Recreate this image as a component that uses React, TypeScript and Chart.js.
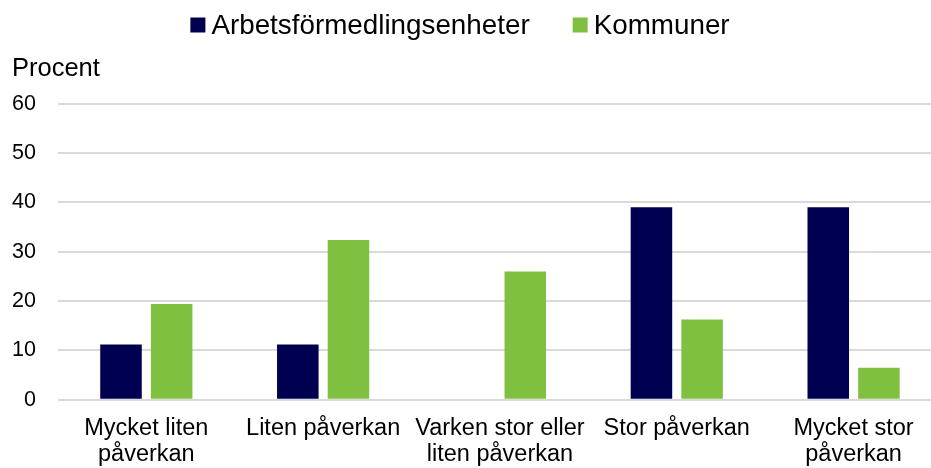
import React, { useEffect, useRef } from "react";
import { Chart, registerables } from "chart.js";

Chart.register(...registerables);

const categories: string[][] = [
  ["Mycket liten", "påverkan"],
  ["Liten påverkan"],
  ["Varken stor eller", "liten påverkan"],
  ["Stor påverkan"],
  ["Mycket stor", "påverkan"],
];
const arbetsformedling: (number | null)[] = [11.2, 11.2, null, 39.0, 39.0];
const kommuner: number[] = [19.4, 32.4, 26.0, 16.3, 6.5];
const seriesNames = ["Arbetsförmedlingsenheter", "Kommuner"];
const seriesColors = ["#000050", "#80C040"];
const yTitle = "Procent";
const yTicks = { min: 0, max: 60, step: 10 };

const FONT = "'Liberation Sans', Arial, sans-serif";

// Legend drawn inside the canvas: small gap between swatch and text, as in the reference
const customLegend = {
  id: "customLegend",
  afterDraw(chart: any, _args: any, opts: any) {
    const ctx: CanvasRenderingContext2D = chart.ctx;
    ctx.save();
    ctx.font = `${opts.fontSize}px ${FONT}`;
    ctx.textBaseline = "middle";
    ctx.textAlign = "left";
    const items = chart.data.datasets.map((ds: any) => ({
      text: ds.label as string,
      color: ds.backgroundColor as string,
      w: ctx.measureText(ds.label).width,
    }));
    const total =
      items.reduce((s: number, it: any) => s + opts.box + opts.gap + it.w, 0) +
      opts.itemGap * (items.length - 1);
    let x = chart.width / 2 + opts.offsetX - total / 2;
    const y = opts.centerY;
    for (const it of items) {
      ctx.fillStyle = it.color;
      ctx.fillRect(x, y - opts.box / 2, opts.box, opts.box);
      x += opts.box + opts.gap;
      ctx.fillStyle = opts.color;
      ctx.fillText(it.text, x, y + 1);
      x += it.w + opts.itemGap;
    }
    ctx.restore();
  },
};

export default function App() {
  const ref = useRef<HTMLCanvasElement | null>(null);
  useEffect(() => {
    if (!ref.current) return;
    const chart = new Chart(ref.current, {
      type: "bar",
      data: {
        labels: categories,
        datasets: [
          {
            label: seriesNames[0],
            data: arbetsformedling,
            backgroundColor: seriesColors[0],
            categoryPercentage: 0.573,
            barPercentage: 0.82,
          },
          {
            label: seriesNames[1],
            data: kommuner,
            backgroundColor: seriesColors[1],
            categoryPercentage: 0.573,
            barPercentage: 0.82,
          },
        ],
      },
      plugins: [customLegend],
      options: {
        animation: false,
        responsive: true,
        maintainAspectRatio: false,
        layout: { autoPadding: false, padding: { left: 12, top: 46, right: 0, bottom: 0 } },
        plugins: {
          tooltip: { enabled: false },
          legend: { display: false },
          customLegend: {
            fontSize: 27.8,
            box: 15,
            gap: 6,
            itemGap: 43,
            offsetX: -11,
            centerY: 25,
            color: "#000",
          },
          title: {
            display: true,
            text: yTitle,
            align: "start",
            position: "top",
            color: "#000",
            font: { family: FONT, size: 25.5, weight: "normal", lineHeight: 1.2 },
            padding: { top: 8, bottom: 19 },
          },
        } as any,
        scales: {
          x: {
            grid: { display: false, drawTicks: false },
            border: { display: false },
            afterFit: (s: any) => {
              s.height -= s.options.ticks.padding;
            },
            ticks: {
              color: "#000",
              font: { family: FONT, size: 23.5, lineHeight: 1.12 },
              maxRotation: 0,
              autoSkip: false,
              padding: 15.5,
            },
          },
          y: {
            min: yTicks.min,
            max: yTicks.max,
            afterFit: (s: any) => {
              s.width -= s.options.ticks.padding;
            },
            ticks: {
              stepSize: yTicks.step,
              color: "#000",
              font: { family: FONT, size: 21.5 },
              padding: 22,
            },
            grid: { color: "#d9d9d9", lineWidth: 2, drawTicks: false },
            border: { display: false },
          },
        },
      },
    });
    return () => chart.destroy();
  }, []);
  return (
    <div style={{ position: "absolute", left: 0, top: 0, width: 931, height: 468, overflow: "hidden", background: "#fff" }}>
      <div style={{ position: "relative", width: 942, height: 468 }}>
        <canvas ref={ref} />
      </div>
    </div>
  );
}
